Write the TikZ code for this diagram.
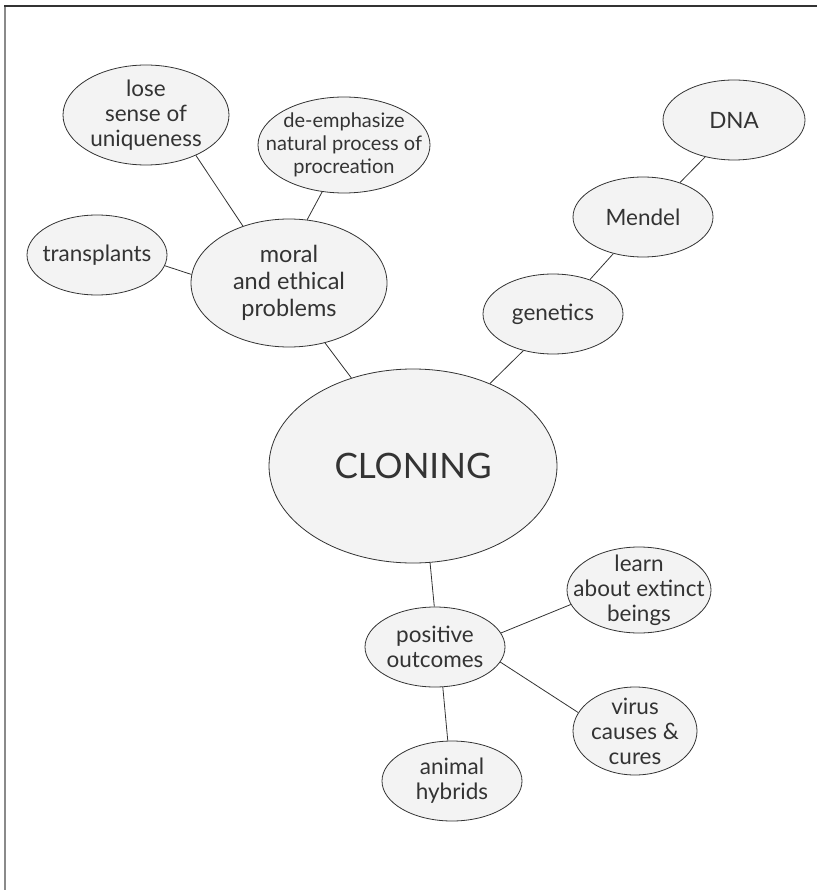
\documentclass[tikz,border=0pt]{standalone}
\usepackage{fontspec}
\setmainfont{Lato}
\usetikzlibrary{shapes.geometric}
\definecolor{ink}{HTML}{333333}
\definecolor{bubble}{HTML}{F3F3F3}
\definecolor{frame}{HTML}{8A8A8A}
\begin{document}
\begin{tikzpicture}[x=1pt,y=-1pt,
  bub/.style={ellipse, draw=ink, fill=bubble, line width=0.8pt, inner sep=0pt},
  lbl/.style={text=ink, align=center, inner sep=0pt, font=\fontsize{22.5}{25}\selectfont},
  lblsmall/.style={lbl, font=\fontsize{20}{23}\selectfont},
  lblmid/.style={lbl, font=\fontsize{23.5}{27}\selectfont},
  lblbig/.style={lbl, font=\fontsize{35}{40}\selectfont},
  link/.style={draw=ink, line width=0.8pt}]
\useasboundingbox (0,0) rectangle (817,890);
\draw[frame, line width=2pt] (5,6) -- (5,890);
\draw[ink, line width=1.3pt] (4,6) -- (817,6);

\node[bub, minimum width=166pt, minimum height=100pt,
  label={[lbl]center:lose\\sense of\\uniqueness}] (lose) at (146,115) {};
\node[bub, minimum width=172pt, minimum height=96pt,
  label={[lblsmall]center:de-emphasize\\natural process of\\procreation}] (deemph) at (344,145) {};
\node[bub, minimum width=196pt, minimum height=128pt,
  label={[lblmid]center:moral\\and ethical\\problems}] (moral) at (289,283) {};
\node[bub, minimum width=140pt, minimum height=80pt,
  label={[lbl]center:transplants}] (transp) at (97,255) {};
\node[bub, minimum width=288pt, minimum height=194pt,
  label={[lblbig]center:CLONING}] (clon) at (413,466) {};
\node[bub, minimum width=140pt, minimum height=80pt,
  label={[lbl]center:genetics}] (gen) at (553,314) {};
\node[bub, minimum width=140pt, minimum height=80pt,
  label={[lbl]center:Mendel}] (mendel) at (643,217) {};
\node[bub, minimum width=142pt, minimum height=80pt,
  label={[lbl]center:DNA}] (dna) at (734,120) {};
\node[bub, minimum width=140pt, minimum height=80pt,
  label={[lbl]center:positive\\outcomes}] (pos) at (435,647) {};
\node[bub, minimum width=144pt, minimum height=86pt,
  label={[lbl]center:learn\\about extinct\\beings}] (learn) at (639,590) {};
\node[bub, minimum width=124pt, minimum height=88pt,
  label={[lbl]center:virus\\causes \&\\cures}] (virus) at (635,731) {};
\node[bub, minimum width=140pt, minimum height=80pt,
  label={[lbl]center:animal\\hybrids}] (animal) at (452,781) {};

\draw[link] (lose.-39) -- (moral.129);
\draw[link] (deemph.245) -- (moral.74);
\draw[link] (transp.-9) -- (moral.175);
\draw[link] (moral.-59) -- (clon.125);
\draw[link] (gen.231) -- (clon.47.5);
\draw[link] (gen.43) -- (mendel.231);
\draw[link] (mendel.43) -- (dna.232);
\draw[link] (clon.-80) -- (pos.91);
\draw[link] (pos.12.6) -- (learn.192);
\draw[link] (pos.-13) -- (virus.162);
\draw[link] (pos.-79) -- (animal.96);
\end{tikzpicture}
\end{document}
